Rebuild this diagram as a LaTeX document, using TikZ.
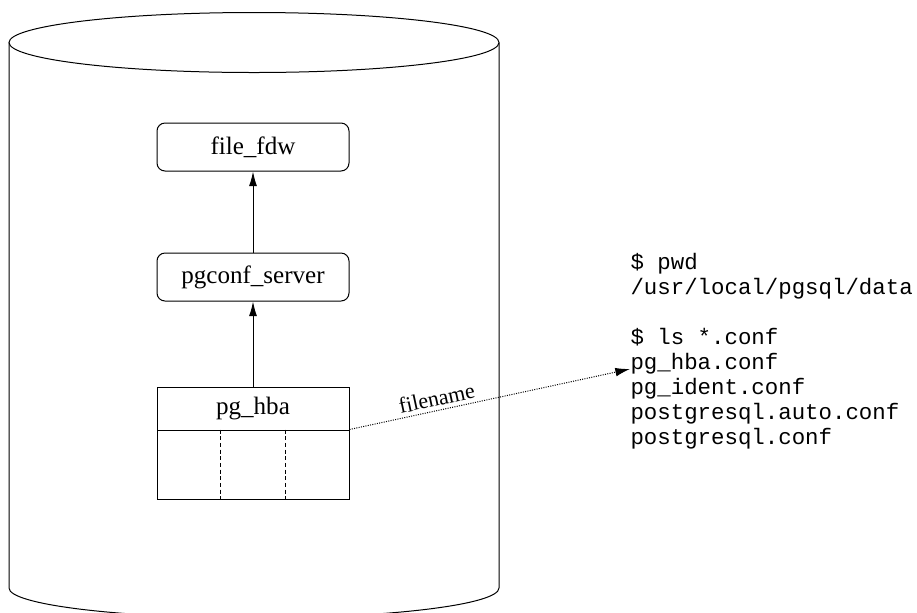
\documentclass[tikz,border=0pt]{standalone}
\usepackage{fontspec}
\setmainfont{Liberation Serif}
\setmonofont{Liberation Mono}
\usetikzlibrary{arrows.meta, calc}

\begin{document}
\begin{tikzpicture}[x=0.75pt, y=-0.75pt, line width=0.75pt]
	\tikzstyle{entity} = [ draw, rounded corners=6pt, minimum width=144pt, minimum height=36pt, font={\fontsize{18.8}{22}\selectfont}];
	\tikzstyle{record} = [ draw, minimum width=144pt, font={\fontsize{18.8}{22}\selectfont}];
	\tikzstyle{shell} = [ anchor=base west, inner sep=0pt, font={\ttfamily\fontsize{16.8}{20}\selectfont}];
	\tikzstyle{link} = [ ->, >={Latex[length=11pt, width=6pt]} ];
	\tikzstyle{ref} = [ ->, densely dotted, >={Latex[length=11pt, width=6.5pt]}, font={\fontsize{16.5}{19}\selectfont} ];

	\useasboundingbox (0,0) rectangle (917,612);
	\clip (0,0) rectangle (917,612);

	% database
	\draw (254,42.5) ellipse [x radius=245, y radius=30];
	\draw (9,42.5) -- (9,588) arc [start angle=180, end angle=0, x radius=245, y radius=30] -- (499,42.5);

	\node[entity] (filefdw) at (253,147) {file\_fdw};
	\node[entity, below of=filefdw, node distance=97.5pt] (pgconf) {pgconf\_server};

	\node[record, minimum height=32.25pt] (pghba) at (253,408.5) {pg\_hba};
	\node[record, minimum height=51.75pt, below of=pghba, node distance=42pt] (columns) {};
	\foreach \f in {1/3, 2/3} {
		\draw[dash pattern=on 3pt off 2pt] ($(columns.north west)!\f!(columns.north east)$) -- ($(columns.south west)!\f!(columns.south east)$);
	}

	\draw[link] (pgconf) to (filefdw);
	\draw[link] (pghba) to (pgconf);

	% shell output
	\foreach \li/\txt in {1/{\$ pwd}, 2/{/usr/local/pgsql/data}, 4/{\$ ls *.conf}, 5/{pg\_hba.conf}, 6/{pg\_ident.conf}, 7/{postgresql.auto.conf}, 8/{postgresql.conf}} {
		\node[shell] (l\li) at (630, 244+25*\li) {\txt};
	}

	\draw[ref] (columns.north east) to node[sloped, above=3pt, pos=0.32, inner sep=0pt] {filename} (l5.base west);
\end{tikzpicture}
\end{document}
